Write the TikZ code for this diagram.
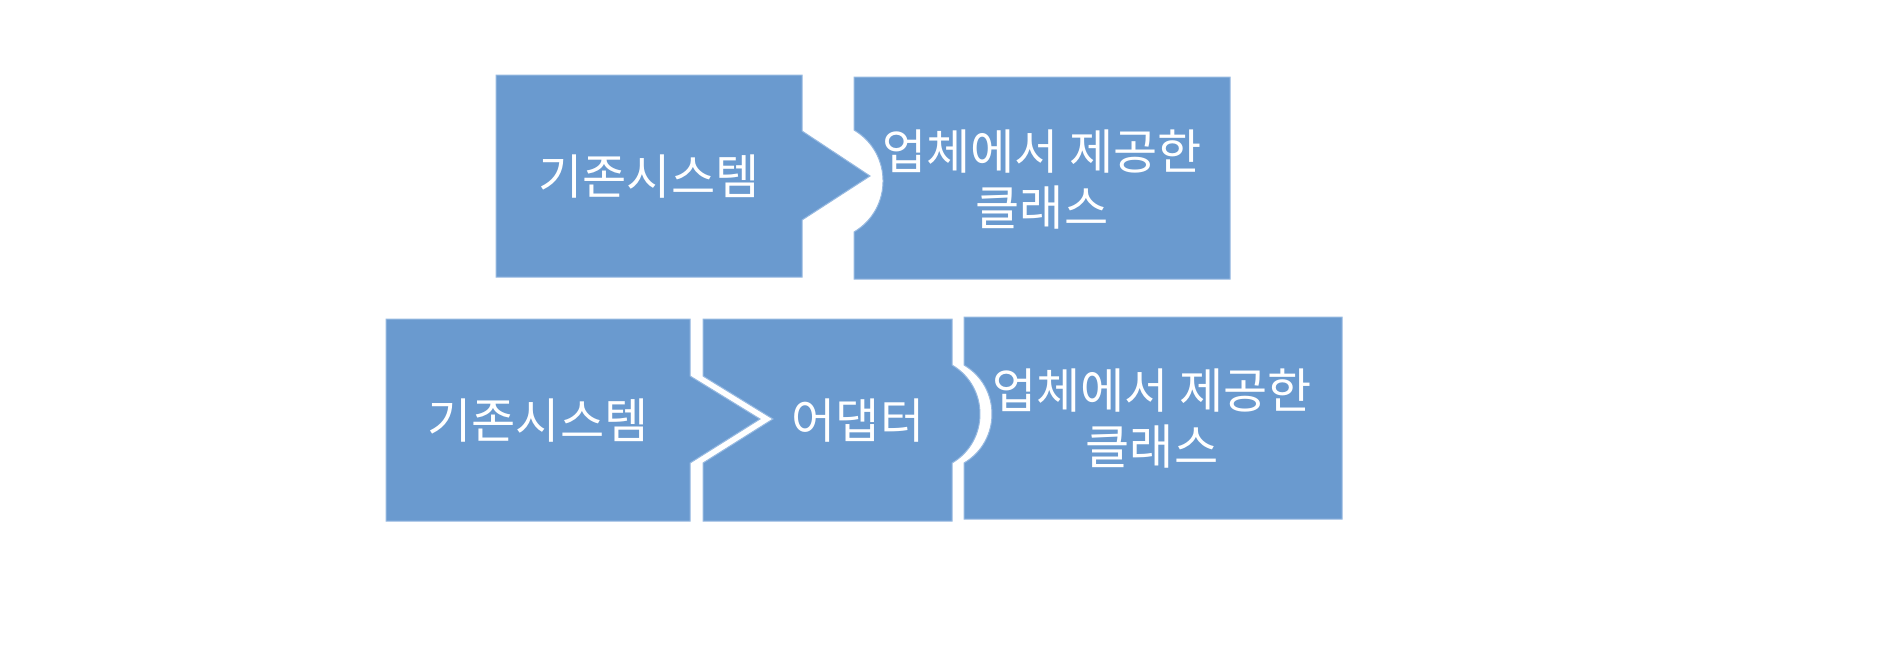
\documentclass[tikz,border=0pt]{standalone}
\usepackage{fontspec}
\setmainfont{Noto Sans CJK KR}
\definecolor{boxblue}{RGB}{106,154,207}
\definecolor{edgeblue}{RGB}{150,185,225}
\begin{document}
\begin{tikzpicture}[x=0.5pt,y=-0.5pt,
  piece/.style={fill=boxblue, draw=edgeblue, line width=0.5pt},
  lbl/.style={text=white, font=\fontsize{24}{28}\selectfont, align=center, inner sep=0pt}]
\useasboundingbox[fill=white] (0,0) rectangle (1904,650);
% top row
\path[piece] (496,75) -- (802,75) -- (802,131) -- (870,176) -- (802,220) -- (802,277) -- (496,277) -- cycle;
\path[piece] (854,77) -- (1230,77) -- (1230,279) -- (854,279) -- (854,232)
  .. controls (892.7,209) and (892.7,153) .. (854,130) -- cycle;
% bottom row
\path[piece] (386,319) -- (690,319) -- (690,376) -- (760,419) -- (690,463) -- (690,521) -- (386,521) -- cycle;
\path[piece] (703,319) -- (952,319) -- (952,365)
  .. controls (989.3,387) and (989.3,441) .. (952,463) -- (952,521) -- (703,521)
  -- (703,463) -- (773,419) -- (703,376) -- cycle;
\path[piece] (964,317) -- (1342,317) -- (1342,519) -- (964,519) -- (964,463)
  .. controls (1001.3,441) and (1001.3,387) .. (964,365) -- cycle;
% labels
\node[lbl] (sysA) at (649,177) {기존시스템};
\node[lbl] (vendA) at (1042,180) {업체에서 제공한\\클래스};
\node[lbl] (sysB) at (538,421) {기존시스템};
\node[lbl] (adapt) at (858,421) {어댑터};
\node[lbl] (vendB) at (1152,419) {업체에서 제공한\\클래스};
\end{tikzpicture}
\end{document}
